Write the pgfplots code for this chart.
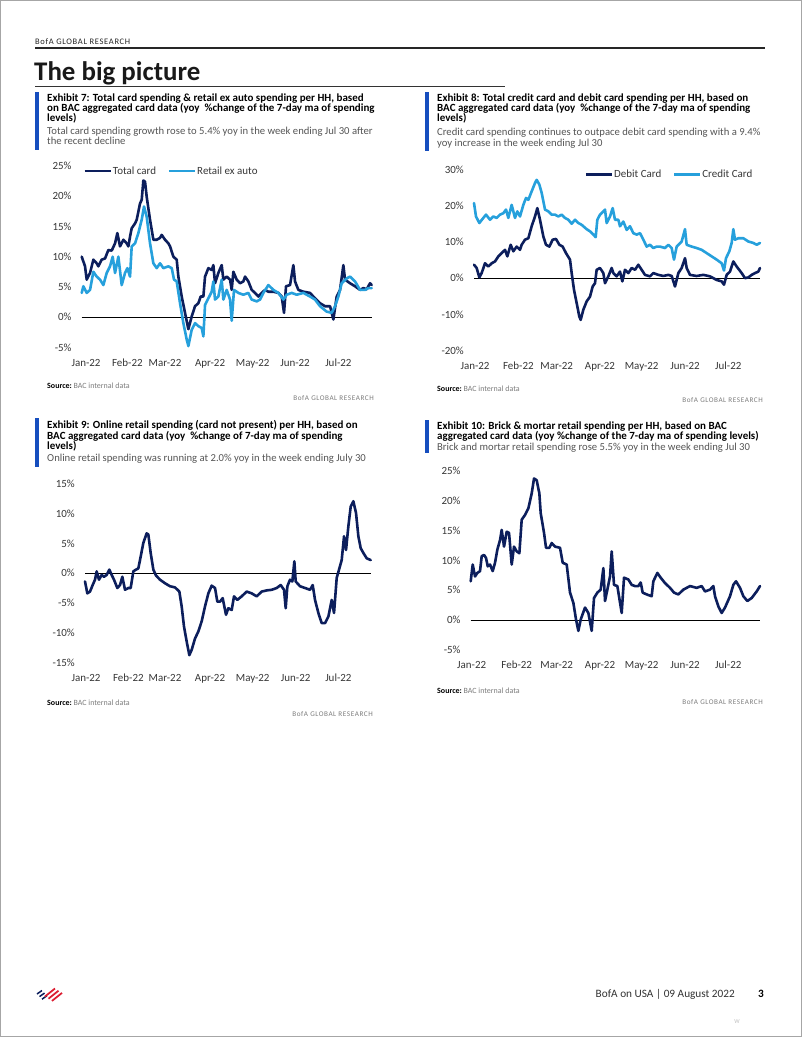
\documentclass[border=0pt]{standalone}
\usepackage{pgfplots}
\pgfplotsset{compat=1.18}
\usepackage{fontspec}
\setmainfont{Carlito}
\newfontfamily\spaced[LetterSpace=8]{Carlito}
\newfontfamily\spacedB[LetterSpace=8]{Carlito}
\definecolor{bnavy}{RGB}{12,30,92}
\definecolor{blight}{RGB}{38,160,220}
\definecolor{bblue}{RGB}{22,78,190}
\definecolor{bred}{RGB}{220,30,50}
\definecolor{tickgray}{RGB}{55,55,55}
\definecolor{subgray}{RGB}{85,85,85}
\definecolor{srcgray}{RGB}{125,125,125}
\newcommand{\tf}{\fontsize{11}{13}\selectfont}
\newcommand{\ttl}{\fontsize{11}{12}\selectfont\bfseries}
\newcommand{\sub}{\fontsize{10.7}{11}\selectfont\color{subgray}}
\pgfplotsset{
  pc/.style={
    scale only axis,
    axis line style={draw=none},
    tick style={draw=none},
    major tick length=0pt,
    clip=false,
    tick label style={font=\tf, text=tickgray},
    yticklabel style={anchor=base east, inner sep=0pt, xshift=-10bp, yshift=-3.7bp},
    xticklabel style={anchor=base, inner sep=0pt, yshift=-18.8bp},
    legend image code/.code={\draw[##1,line width=2.6bp,line cap=butt] (0bp,0bp) -- (26bp,0bp);},
    legend style={draw=none, fill=none, inner sep=0pt, font=\tf, text=tickgray,
      legend columns=2,
      /tikz/every odd column/.append style={column sep=0.5bp},
      /tikz/every even column/.append style={column sep=11bp},
      nodes={inner sep=0.5bp}},
  },
  ser/.style={line width=2.6bp, line join=round, line cap=round},
  zl/.style={black, line width=0.9bp, forget plot},
}
\begin{document}
\begin{tikzpicture}
\path[use as bounding box] (0,0) rectangle (802bp,-1037bp);
\fill[white] (0,0) rectangle (802bp,-1037bp);

%================ Exhibit 7 =================
\begin{axis}[pc, at={(81.7bp,-347.3bp)}, anchor=south west,
  width=290bp, height=181.3bp,
  xmin=155, xmax=1025, ymin=-5, ymax=25,
  ytick={-5,0,5,10,15,20,25},
  yticklabels={-5\%,0\%,5\%,10\%,15\%,20\%,25\%},
  xtick={168,292,405,540,668,795,925},
  xticklabels={Jan-22,Feb-22,Mar-22,Apr-22,May-22,Jun-22,Jul-22},
  legend style={at={(0,1)}, anchor=west, xshift=1.5bp, yshift=-5bp}]
\addplot[zl] coordinates {(155,0) (1025,0)};
\addplot[ser, bnavy] coordinates {(155,10.0)(165,8.4)(170,6.2)(180,7.3)(190,9.5)(200,8.9)(205,8.4)(215,9.5)(225,9.7)(235,11.1)(245,11.0)(255,12.2)(262,13.9)(270,11.7)(280,12.8)(290,12.2)(295,11.7)(300,13.3)(305,14.7)(315,15.5)(320,16.1)(330,18.8)(335,19.4)(340,22.6)(345,22.4)(350,19.9)(360,16.1)(370,12.8)(380,12.8)(390,13.1)(395,13.6)(405,12.8)(415,12.2)(420,11.7)(430,10.0)(440,9.5)(445,6.7)(455,3.4)(465,0.7)(475,-2.0)(485,0.1)(495,1.8)(505,2.3)(512,3.4)(520,3.4)(525,6.7)(535,8.1)(545,7.8)(550,8.6)(555,5.6)(565,7.3)(575,8.6)(580,6.2)(590,6.7)(600,6.2)(605,4.5)(610,7.5)(620,6.2)(630,5.6)(640,5.9)(645,6.7)(655,5.9)(665,4.5)(675,4.0)(685,3.4)(695,4.0)(705,4.5)(715,4.2)(730,4.2)(745,4.0)(755,3.4)(762,0.7)(768,5.1)(780,5.3)(790,8.6)(795,5.9)(805,4.5)(820,4.2)(840,4.0)(855,3.1)(870,2.3)(885,1.8)(900,1.8)(910,-0.4)(920,3.4)(930,4.5)(940,8.6)(945,6.2)(960,5.6)(975,5.1)(990,4.5)(1000,4.8)(1010,4.6)(1020,5.6)(1025,5.3)};
\addlegendentry{Total card}
\addplot[ser, blight] coordinates {(155,4.0)(160,5.1)(170,4.0)(180,4.5)(190,7.5)(200,6.7)(210,6.2)(220,5.3)(230,7.3)(240,8.4)(248,10.0)(255,7.3)(265,10.0)(275,5.3)(285,7.3)(292,8.1)(300,6.7)(305,11.7)(315,12.2)(325,13.9)(335,16.1)(342,18.3)(350,16.6)(360,12.2)(370,8.9)(380,8.1)(390,8.9)(400,8.1)(415,8.4)(425,8.1)(432,6.2)(440,5.9)(450,2.3)(460,-1.0)(470,-3.7)(475,-4.8)(485,-2.1)(495,-1.0)(505,-1.5)(515,-1.8)(520,-3.2)(525,2.0)(535,3.1)(545,4.2)(550,5.9)(555,2.9)(565,3.4)(575,6.2)(580,2.9)(590,4.5)(600,2.9)(605,-0.6)(612,4.5)(625,4.0)(640,3.7)(655,4.0)(665,2.9)(680,2.6)(690,2.9)(700,4.0)(715,5.3)(730,4.5)(745,4.0)(760,2.9)(770,3.7)(785,4.0)(800,3.7)(820,4.0)(840,3.4)(855,2.9)(870,1.8)(890,0.9)(905,0.7)(915,1.8)(925,3.4)(935,5.6)(950,6.4)(960,6.7)(975,5.9)(990,4.5)(1005,4.5)(1015,4.8)(1025,4.8)};
\addlegendentry{Retail ex auto}
\end{axis}

%================ Exhibit 8 =================
\begin{axis}[pc, at={(474bp,-350.7bp)}, anchor=south west,
  width=286bp, height=181.4bp,
  xmin=162, xmax=1020, ymin=-20, ymax=30,
  ytick={-20,-10,0,10,20,30},
  yticklabels={-20\%,-10\%,0\%,10\%,20\%,30\%},
  xtick={165,295,410,540,665,795,925},
  xticklabels={Jan-22,Feb-22,Mar-22,Apr-22,May-22,Jun-22,Jul-22},
  legend style={at={(1,1)}, anchor=east, xshift=-7bp, yshift=-5bp}]
\addplot[zl] coordinates {(162,0) (1020,0)};
\addplot[ser, bnavy] coordinates {(162,3.7)(170,2.8)(178,0.2)(185,1.4)(195,4.1)(205,3.2)(215,4.1)(225,4.6)(235,6.0)(245,6.9)(255,7.8)(262,6.0)(272,9.2)(280,7.4)(290,8.7)(300,7.8)(305,9.2)(315,10.6)(325,11.0)(335,14.3)(345,17.0)(352,19.3)(360,16.1)(370,11.5)(378,9.2)(388,8.7)(398,10.6)(408,10.8)(418,9.2)(428,8.7)(438,6.9)(450,5.1)(455,1.4)(462,-3.2)(470,-6.9)(478,-10.6)(482,-11.5)(490,-8.7)(500,-6.4)(510,-5.1)(518,-2.3)(525,-1.4)(530,2.3)(540,2.8)(550,1.4)(555,-1.4)(565,0.5)(575,2.8)(580,1.4)(590,0.5)(600,1.8)(607,-0.9)(615,2.3)(625,1.4)(635,2.8)(645,2.3)(655,3.7)(665,2.3)(675,0.9)(690,0.5)(700,1.4)(715,0.9)(730,0.6)(745,0.9)(755,0.6)(765,-2.3)(775,1.4)(785,2.8)(795,5.5)(800,2.8)(810,0.9)(830,0.6)(850,0.9)(870,0.5)(890,-0.5)(905,-0.9)(912,-1.8)(920,0.9)(930,1.8)(940,4.6)(950,3.2)(965,1.4)(975,0.0)(985,0.2)(995,0.9)(1005,1.4)(1015,1.8)(1020,2.8)};
\addlegendentry{Debit Card}
\addplot[ser, blight] coordinates {(162,20.7)(168,17.0)(178,15.2)(190,16.6)(198,17.5)(210,16.1)(220,17.0)(230,16.6)(240,17.5)(250,17.9)(258,18.9)(265,16.6)(275,20.2)(285,16.6)(292,18.4)(300,17.0)(310,20.2)(318,22.1)(325,21.6)(335,23.9)(345,26.2)(350,27.1)(358,25.8)(365,23.5)(375,18.9)(385,18.4)(395,17.5)(405,17.5)(415,17.0)(425,17.5)(435,16.6)(445,16.1)(455,15.0)(465,16.1)(475,15.2)(485,14.7)(500,13.5)(510,12.9)(520,12.0)(527,11.3)(532,16.1)(540,17.5)(550,18.4)(555,18.9)(560,15.2)(570,17.0)(578,19.3)(585,16.1)(595,16.1)(600,14.3)(610,15.6)(620,13.3)(630,14.3)(640,12.4)(650,12.0)(660,12.4)(670,10.6)(680,8.7)(690,9.2)(700,8.3)(710,8.7)(720,8.7)(735,8.3)(745,9.2)(755,8.3)(762,5.1)(770,8.7)(785,10.1)(795,13.5)(800,9.2)(815,8.7)(830,8.3)(845,7.8)(860,6.9)(875,6.0)(890,5.1)(905,4.1)(912,2.1)(918,5.5)(928,7.4)(935,9.7)(940,13.5)(945,10.6)(955,11.0)(970,11.0)(985,10.1)(1000,9.7)(1010,9.2)(1020,9.7)};
\addlegendentry{Credit Card}
\end{axis}

%================ Exhibit 9 =================
\begin{axis}[pc, at={(85bp,-662.3bp)}, anchor=south west,
  width=285.7bp, height=178.3bp,
  xmin=165, xmax=1022, ymin=-15, ymax=15,
  ytick={-15,-10,-5,0,5,10,15},
  yticklabels={-15\%,-10\%,-5\%,0\%,5\%,10\%,15\%},
  xtick={168,295,405,540,668,797,925},
  xticklabels={Jan-22,Feb-22,Mar-22,Apr-22,May-22,Jun-22,Jul-22}]
\addplot[zl] coordinates {(165,0) (1022,0)};
\addplot[ser, bnavy, forget plot] coordinates {(165,-1.4)(172,-3.4)(180,-3.1)(188,-2.0)(195,-1.1)(200,0.3)(207,-1.1)(215,-0.3)(222,-0.6)(230,-0.3)(238,0.6)(245,-0.3)(252,-1.1)(262,-2.5)(270,-2.0)(277,-0.6)(285,-2.8)(295,-2.5)(302,-2.5)(310,0.3)(318,0.6)(325,0.8)(330,2.2)(340,5.1)(350,6.7)(355,6.5)(362,3.4)(370,0.6)(378,-0.4)(390,-1.1)(405,-1.7)(420,-2.2)(435,-2.4)(448,-3.1)(455,-5.6)(462,-9.0)(470,-11.5)(478,-13.8)(485,-12.9)(495,-11.0)(505,-9.8)(515,-8.1)(525,-5.6)(535,-3.4)(545,-2.1)(555,-2.5)(562,-4.8)(570,-4.8)(578,-4.2)(588,-7.0)(595,-5.9)(605,-6.2)(612,-3.9)(622,-4.5)(635,-3.9)(650,-3.1)(665,-3.4)(680,-3.9)(695,-3.1)(710,-2.9)(725,-2.8)(740,-2.5)(752,-2.0)(762,-2.8)(767,-5.9)(772,-2.2)(780,-1.1)(787,-1.4)(793,2.0)(797,-1.4)(810,-2.2)(825,-2.5)(840,-2.8)(848,-2.0)(855,-4.5)(865,-6.7)(875,-8.4)(885,-8.4)(895,-7.3)(905,-4.5)(912,-6.7)(920,-0.8)(928,0.8)(935,2.2)(942,6.2)(948,3.9)(955,7.9)(962,11.2)(970,12.1)(978,10.1)(985,6.2)(992,4.2)(1000,3.4)(1010,2.5)(1022,2.2)};
\end{axis}

%================ Exhibit 10 =================
\begin{axis}[pc, at={(470.7bp,-650bp)}, anchor=south west,
  width=289.3bp, height=179.3bp,
  xmin=152, xmax=1020, ymin=-5, ymax=25,
  ytick={-5,0,5,10,15,20,25},
  yticklabels={-5\%,0\%,5\%,10\%,15\%,20\%,25\%},
  xtick={155,290,410,540,665,795,925},
  xticklabels={Jan-22,Feb-22,Mar-22,Apr-22,May-22,Jun-22,Jul-22}]
\addplot[zl] coordinates {(152,0) (1020,0)};
\addplot[ser, bnavy, forget plot] coordinates {(152,6.5)(158,9.3)(165,7.3)(172,7.9)(180,8.2)(185,10.7)(192,10.9)(198,10.4)(203,9.0)(210,9.3)(218,8.2)(225,9.6)(232,11.8)(240,13.4)(245,15.1)(252,12.3)(260,14.8)(267,14.6)(275,9.3)(282,12.3)(290,11.5)(298,11.2)(305,16.8)(315,17.6)(325,18.7)(335,21.2)(342,23.7)(350,23.4)(358,21.2)(362,17.9)(372,14.6)(378,12.1)(388,12.1)(395,12.9)(405,12.3)(420,12.1)(428,9.6)(440,9.3)(450,4.6)(460,2.9)(468,0.1)(475,-1.8)(482,0.1)(495,2.1)(505,1.2)(515,-1.8)(522,3.7)(532,4.6)(542,5.1)(550,8.7)(555,3.2)(562,5.1)(570,7.3)(575,11.5)(582,5.9)(592,5.7)(605,1.2)(612,7.1)(625,6.8)(635,5.9)(645,5.7)(655,5.7)(662,6.3)(668,4.6)(680,4.3)(695,4.0)(700,6.5)(712,7.9)(722,7.1)(735,6.2)(750,5.4)(762,4.6)(775,4.3)(790,5.1)(810,5.7)(830,5.4)(845,5.7)(855,4.8)(870,5.1)(880,5.7)(885,4.0)(895,2.3)(905,1.2)(915,2.1)(930,4.0)(940,5.9)(948,6.5)(960,5.4)(970,4.0)(982,3.2)(995,3.7)(1010,4.8)(1020,5.7)};
\end{axis}

%================ page text =================
\begin{scope}[x=1bp,y=-1bp]
\draw[gray!70, line width=1] (0.5,0.5) rectangle (801.5,1036.5);
% header
\node[anchor=base west, inner sep=0, text=black!85] at (35,44) {\fontsize{8.5}{9}\selectfont\spaced BofA GLOBAL RESEARCH};
\draw[black!85, line width=1.2] (35,48) -- (765,48);
\node[anchor=base west, inner sep=0, text=black!90] at (34,80) {\fontsize{27}{30}\selectfont\bfseries The big picture};
\draw[black!80, line width=0.8] (35,86.5) -- (505,86.5);

% Exhibit 7
\fill[bblue] (35,92) rectangle (39,150);
\node[anchor=base west, inner sep=0] at (47,101) {\ttl Exhibit 7: Total card spending \& retail ex auto spending per HH, based};
\node[anchor=base west, inner sep=0] at (47,111) {\ttl on BAC aggregated card data (yoy \ \%change of the 7-day ma of spending};
\node[anchor=base west, inner sep=0] at (47,121) {\ttl levels)};
\node[anchor=base west, inner sep=0] at (47,134) {\sub Total card spending growth rose to 5.4\% yoy in the week ending Jul 30 after};
\node[anchor=base west, inner sep=0] at (47,144) {\sub the recent decline};

% Exhibit 8
\fill[bblue] (425,92) rectangle (429,151);
\node[anchor=base west, inner sep=0] at (437,101) {\ttl Exhibit 8: Total credit card and debit card spending per HH, based on};
\node[anchor=base west, inner sep=0] at (437,111) {\ttl BAC aggregated card data (yoy \ \%change of the 7-day ma of spending};
\node[anchor=base west, inner sep=0] at (437,121) {\ttl levels)};
\node[anchor=base west, inner sep=0] at (437,135) {\sub Credit card spending continues to outpace debit card spending with a 9.4\%};
\node[anchor=base west, inner sep=0] at (437,146) {\sub yoy increase in the week ending Jul 30};

% Exhibit 9
\fill[bblue] (35,418) rectangle (39,467);
\node[anchor=base west, inner sep=0] at (47,428) {\ttl Exhibit 9: Online retail spending (card not present) per HH, based on};
\node[anchor=base west, inner sep=0] at (47,439) {\ttl BAC aggregated card data (yoy \ \%change of 7-day ma of spending};
\node[anchor=base west, inner sep=0] at (47,449) {\ttl levels)};
\node[anchor=base west, inner sep=0] at (47,461) {\sub Online retail spending was running at 2.0\% yoy in the week ending July 30};

% Exhibit 10
\fill[bblue] (425,420) rectangle (429,453);
\node[anchor=base west, inner sep=0] at (437,429) {\ttl Exhibit 10: Brick \& mortar retail spending per HH, based on BAC};
\node[anchor=base west, inner sep=0] at (437,439) {\ttl aggregated card data (yoy \%change of the 7-day ma of spending levels)};
\node[anchor=base west, inner sep=0] at (437,450) {\sub Brick and mortar retail spending rose 5.5\% yoy in the week ending Jul 30};

% sources
\node[anchor=base west, inner sep=0] at (47,388) {\fontsize{8}{9}\selectfont\textbf{Source:}\ \textcolor{srcgray}{BAC internal data}};
\node[anchor=base east, inner sep=0, text=srcgray] at (374,400) {\fontsize{7.2}{8}\selectfont\spacedB BofA GLOBAL RESEARCH};
\node[anchor=base west, inner sep=0] at (437,391) {\fontsize{8}{9}\selectfont\textbf{Source:}\ \textcolor{srcgray}{BAC internal data}};
\node[anchor=base east, inner sep=0, text=srcgray] at (763,402) {\fontsize{7.2}{8}\selectfont\spacedB BofA GLOBAL RESEARCH};
\node[anchor=base west, inner sep=0] at (47,705) {\fontsize{8}{9}\selectfont\textbf{Source:}\ \textcolor{srcgray}{BAC internal data}};
\node[anchor=base east, inner sep=0, text=srcgray] at (373,716) {\fontsize{7.2}{8}\selectfont\spacedB BofA GLOBAL RESEARCH};
\node[anchor=base west, inner sep=0] at (437,693) {\fontsize{8}{9}\selectfont\textbf{Source:}\ \textcolor{srcgray}{BAC internal data}};
\node[anchor=base east, inner sep=0, text=srcgray] at (763,704) {\fontsize{7.2}{8}\selectfont\spacedB BofA GLOBAL RESEARCH};

% footer
\foreach \i in {0,1,2} {\draw[bnavy, line width=1.5] (37+2.5*\i,994+2.6*\i) -- (42+2.5*\i,990.5+2.6*\i);}
\foreach \i in {0,1,2} {\draw[bred, line width=1.8] (45+3.5*\i,996.5+2.2*\i) -- (55+3.5*\i,988.5+2.2*\i);}
\node[anchor=base east, inner sep=0, text=black!80] at (735,997) {\fontsize{11.3}{12}\selectfont BofA on USA | 09 August 2022};
\node[anchor=base west, inner sep=0] at (758,997) {\fontsize{11.3}{12}\selectfont\bfseries 3};
\node[anchor=base, inner sep=0, text=black!25] at (737,1023) {\fontsize{6}{7}\selectfont W};
\end{scope}
\end{tikzpicture}
\end{document}
